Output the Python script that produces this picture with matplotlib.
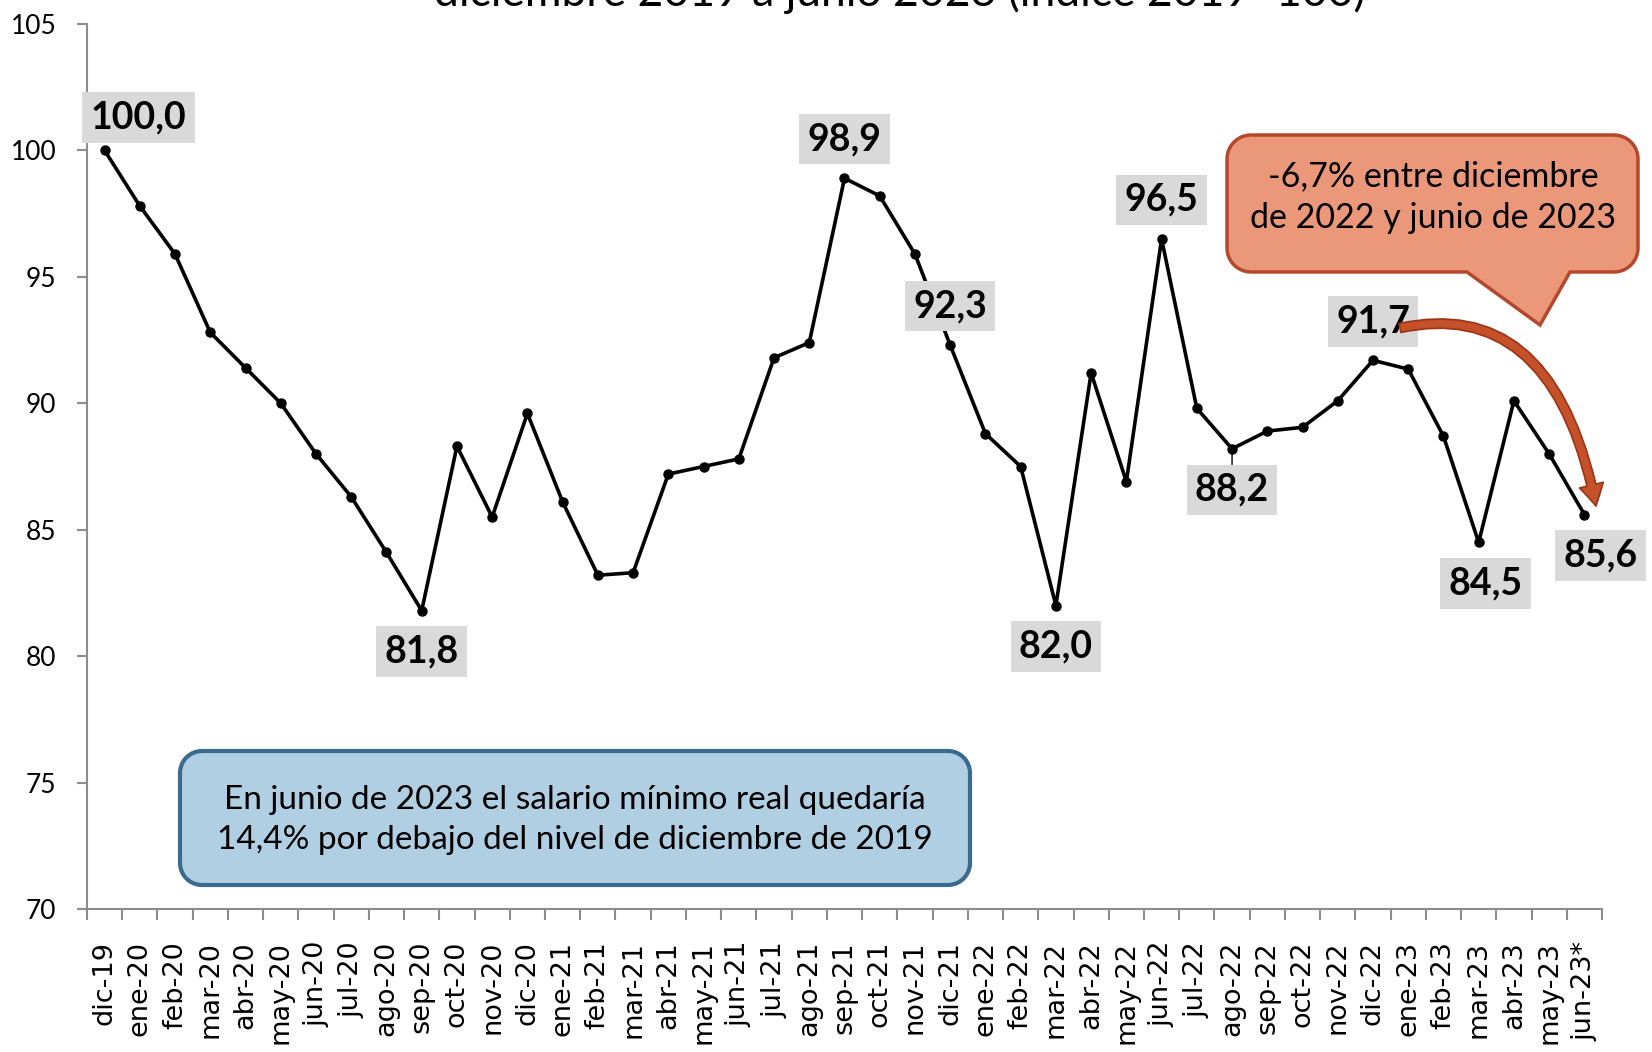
import matplotlib
matplotlib.use('Agg')
import matplotlib.pyplot as plt
from matplotlib.patches import PathPatch, FancyArrowPatch
from matplotlib.path import Path
import numpy as np

months = ['dic-19', 'ene-20', 'feb-20', 'mar-20', 'abr-20', 'may-20', 'jun-20', 'jul-20',
          'ago-20', 'sep-20', 'oct-20', 'nov-20', 'dic-20', 'ene-21', 'feb-21', 'mar-21',
          'abr-21', 'may-21', 'jun-21', 'jul-21', 'ago-21', 'sep-21', 'oct-21', 'nov-21',
          'dic-21', 'ene-22', 'feb-22', 'mar-22', 'abr-22', 'may-22', 'jun-22', 'jul-22',
          'ago-22', 'sep-22', 'oct-22', 'nov-22', 'dic-22', 'ene-23', 'feb-23', 'mar-23',
          'abr-23', 'may-23', 'jun-23*']
values = [100.0, 97.8, 95.9, 92.8, 91.4, 90.0, 88.0, 86.3,
          84.1, 81.8, 88.3, 85.5, 89.6, 86.1, 83.2, 83.3,
          87.2, 87.5, 87.8, 91.8, 92.4, 98.9, 98.2, 95.9,
          92.3, 88.8, 87.5, 82.0, 91.2, 86.9, 96.5, 89.8,
          88.2, 88.9, 89.05, 90.1, 91.7, 91.35, 88.7, 84.5,
          90.1, 88.0, 85.6]

labeled_months = ['dic-19', 'sep-20', 'sep-21', 'dic-21', 'mar-22', 'jun-22',
                  'ago-22', 'dic-22', 'mar-23', 'jun-23*']
label_side = ['above', 'below', 'above', 'above', 'below', 'above',
              'below', 'above', 'below', 'below']
label_dx = [34, 0, 0, 0, 0, 0, 0, 0, 7, 16]

title = 'diciembre 2019 a junio 2023 (índice 2019=100)'
note_blue = 'En junio de 2023 el salario mínimo real quedaría\n14,4% por debajo del nivel de diciembre de 2019'
note_orange = '-6,7% entre diciembre\nde 2022 y junio de 2023'
yticks = [70, 75, 80, 85, 90, 95, 100, 105]

W, H = 1652, 1052
fig = plt.figure(figsize=(W / 100, H / 100), dpi=100)
fig.patch.set_facecolor('white')

FONT = ['Lato', 'DejaVu Sans']

def fx(x):
    return x / W

def fy(y):
    return 1 - y / H

ax = fig.add_axes([fx(87), fy(909), fx(1602) - fx(87), fy(24) - fy(909)])
x = np.arange(len(months))
ax.plot(x, values, color='black', lw=2.6, marker='o', ms=6.5, zorder=3, clip_on=False)
ax.set_xlim(-0.5, len(months) - 0.5)
ax.set_ylim(70, 105)

for s in ['top', 'right']:
    ax.spines[s].set_visible(False)
for s in ['left', 'bottom']:
    ax.spines[s].set_color('#8c8c8c')
    ax.spines[s].set_linewidth(1.5)

ax.set_yticks(yticks)
ax.set_yticklabels([str(v) for v in yticks], fontsize=19, family=FONT)
ax.tick_params(axis='y', length=7, width=1.5, color='#8c8c8c', pad=15)

ax.set_xticks(np.arange(-0.5, len(months), 1))
ax.set_xticklabels([])
ax.tick_params(axis='x', which='major', length=8, width=1.5, color='#8c8c8c')
ax.set_xticks(x, minor=True)
ax.set_xticklabels(months, minor=True, rotation=90, fontsize=19.5, family='DejaVu Sans')
ax.tick_params(axis='x', which='minor', length=0, pad=23)

for m, side, dx in zip(labeled_months, label_side, label_dx):
    i = months.index(m)
    v = values[i]
    dy = 39 if side == 'above' else -41
    if m == 'dic-19':
        dy = 33
    txt = f'{v:.1f}'.replace('.', ',')
    kw = {}
    if m == 'ago-22':
        kw = dict(arrowprops=dict(arrowstyle='-', color='black', lw=1, shrinkA=0, shrinkB=3))
    ax.annotate(txt, (i, v), xytext=(dx, dy), textcoords='offset pixels',
                ha='center', va='center', fontsize=27, fontweight='bold', family=FONT,
                bbox=dict(boxstyle='square,pad=0.22', fc='#d9d9d9', ec='none'),
                zorder=5, annotation_clip=False, **kw)

# title (partly cut off at the top, as in the reference)
fig.text(fx(900), fy(6), title, ha='center', va='baseline', fontsize=32, family=FONT)


def rounded_path(L, T, R, B, r, tail=None):
    pts = []
    def arc(cx, cy, a0, a1):
        th = np.radians(np.linspace(a0, a1, 12))
        for t in th:
            pts.append((cx + r * np.cos(t), cy + r * np.sin(t)))
    arc(R - r, T + r, -90, 0)
    arc(R - r, B - r, 0, 90)
    if tail is not None:
        bx1, bx2, tx, ty = tail
        pts.append((bx2, B))
        pts.append((tx, ty))
        pts.append((bx1, B))
    arc(L + r, B - r, 90, 180)
    arc(L + r, T + r, 180, 270)
    pts.append(pts[0])
    verts = [(fx(px), fy(py)) for px, py in pts]
    codes = [Path.MOVETO] + [Path.LINETO] * (len(verts) - 2) + [Path.CLOSEPOLY]
    return Path(verts, codes)

blue = PathPatch(rounded_path(180, 751, 970, 885, 22), transform=fig.transFigure,
                 fc='#b1cfe2', ec='#3a6a8c', lw=3, zorder=6)
fig.add_artist(blue)
fig.text(fx(575), fy(820), note_blue, ha='center', va='center', fontsize=24,
         family=FONT, linespacing=1.45, zorder=7)

orange = PathPatch(rounded_path(1227, 135, 1638, 272, 24, tail=(1467, 1570, 1540, 325)),
                   transform=fig.transFigure, fc='#ea977a', ec='#b5482b', lw=2.5, zorder=6)
fig.add_artist(orange)
fig.text(fx(1433), fy(197), note_orange, ha='center', va='center', fontsize=24.5,
         family=FONT, linespacing=1.4, zorder=7)

arc_path = Path([(fx(1400), fy(328)), (fx(1554), fy(295)), (fx(1596), fy(506))],
                [Path.MOVETO, Path.CURVE3, Path.CURVE3])
arrow = FancyArrowPatch(path=arc_path, transform=fig.transFigure,
                        arrowstyle='simple,head_width=0.8,head_length=0.7,tail_width=0.3',
                        mutation_scale=22, fc='#c4512a', ec='#9a3414', lw=1.2, zorder=8)
fig.add_artist(arrow)

fig.savefig('out.png', dpi=100)
